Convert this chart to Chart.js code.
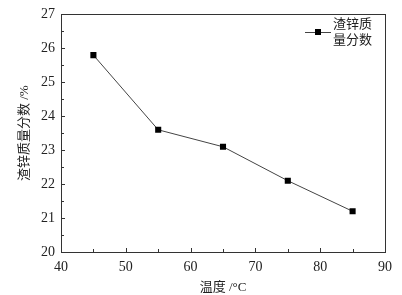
<!DOCTYPE html>
<html>
<head>
<meta charset="utf-8">
<script src="https://cdn.jsdelivr.net/npm/chart.js@4.4.0/dist/chart.umd.min.js"></script>
<style>
  html, body { margin: 0; padding: 0; background: #fff; }
</style>
</head>
<body>
<canvas id="chart" width="402" height="295"></canvas>
<script>
// data
const temperatures = [45, 55, 65, 75, 85];
const zincContent = [25.8, 23.6, 23.1, 22.1, 21.2];
const xTicks = [40, 50, 60, 70, 80, 90];
const yTicks = [20, 21, 22, 23, 24, 25, 26, 27];
const legendLines = ["渣锌质", "量分数"];

const serif = '"Liberation Serif", "Noto Sans CJK SC", serif';
const ink = "#222";

// frame, inward ticks and the legend box
const framePlugin = {
  id: "frame",
  afterDraw(chart) {
    const ctx = chart.ctx;
    const a = chart.chartArea;
    const xs = chart.scales.x;
    const ys = chart.scales.y;
    ctx.save();
    ctx.strokeStyle = "#333";
    ctx.lineWidth = 1;
    ctx.strokeRect(Math.round(a.left) + 0.5, Math.round(a.top) + 0.5,
      Math.round(a.right - a.left), Math.round(a.bottom - a.top));

    ctx.beginPath();
    xTicks.forEach((v, i) => {
      const px = Math.round(xs.getPixelForValue(v)) + 0.5;
      ctx.moveTo(px, a.bottom);
      ctx.lineTo(px, a.bottom - 4);
      if (i < xTicks.length - 1) {
        const mx = Math.round(xs.getPixelForValue(v + 5)) + 0.5;
        ctx.moveTo(mx, a.bottom);
        ctx.lineTo(mx, a.bottom - 3);
      }
    });
    yTicks.forEach((v, i) => {
      const py = Math.round(ys.getPixelForValue(v)) + 0.5;
      ctx.moveTo(a.left, py);
      ctx.lineTo(a.left + 4, py);
      if (i < yTicks.length - 1) {
        const my = Math.round(ys.getPixelForValue(v + 0.5)) + 0.5;
        ctx.moveTo(a.left, my);
        ctx.lineTo(a.left + 3, my);
      }
    });
    ctx.stroke();

    // legend: line + square marker, two-line label
    const ds = chart.data.datasets[0];
    const ly = 32.5;
    ctx.strokeStyle = ds.borderColor;
    ctx.beginPath();
    ctx.moveTo(305, ly);
    ctx.lineTo(331, ly);
    ctx.stroke();
    ctx.fillStyle = ds.pointBackgroundColor;
    ctx.fillRect(315, ly - 3.5, 6, 6);
    ctx.fillStyle = ink;
    ctx.font = "13px " + serif;
    ctx.textBaseline = "middle";
    ctx.textAlign = "left";
    legendLines.forEach((t, i) => ctx.fillText(t, 333, 25 + i * 15.5));
    ctx.restore();
  }
};

new Chart(document.getElementById("chart"), {
  type: "line",
  data: {
    datasets: [{
      label: legendLines.join(""),
      data: temperatures.map((t, i) => ({ x: t, y: zincContent[i] })),
      borderColor: "#444",
      borderWidth: 1,
      pointStyle: "rect",
      pointRadius: 4.3,
      pointBackgroundColor: "#000",
      pointBorderColor: "#000",
      pointBorderWidth: 0,
      tension: 0
    }]
  },
  options: {
    responsive: false,
    animation: false,
    devicePixelRatio: 1,
    layout: { padding: { top: 11, right: 17, left: 0, bottom: 0 } },
    plugins: {
      legend: { display: false },
      tooltip: { enabled: false }
    },
    scales: {
      x: {
        type: "linear",
        min: 40,
        max: 90,
        afterFit(scale) { scale.height = 43; },
        afterBuildTicks(scale) { scale.ticks = xTicks.map(v => ({ value: v })); },
        grid: { display: false, drawTicks: false },
        border: { display: false },
        ticks: { color: ink, padding: 7, font: { family: serif, size: 14 } },
        title: {
          display: true,
          text: "温度 /°C",
          color: ink,
          padding: { top: 0, bottom: 0 },
          font: { family: serif, size: 13 }
        }
      },
      y: {
        type: "linear",
        min: 20,
        max: 27,
        afterFit(scale) { scale.width = 61; },
        afterBuildTicks(scale) { scale.ticks = yTicks.map(v => ({ value: v })); },
        grid: { display: false, drawTicks: false },
        border: { display: false },
        ticks: { color: ink, padding: 6, font: { family: serif, size: 14 } },
        title: {
          display: true,
          text: "渣锌质量分数 /%",
          color: ink,
          padding: { top: 17, bottom: 0 },
          font: { family: serif, size: 13 }
        }
      }
    }
  },
  plugins: [framePlugin]
});
</script>
</body>
</html>
